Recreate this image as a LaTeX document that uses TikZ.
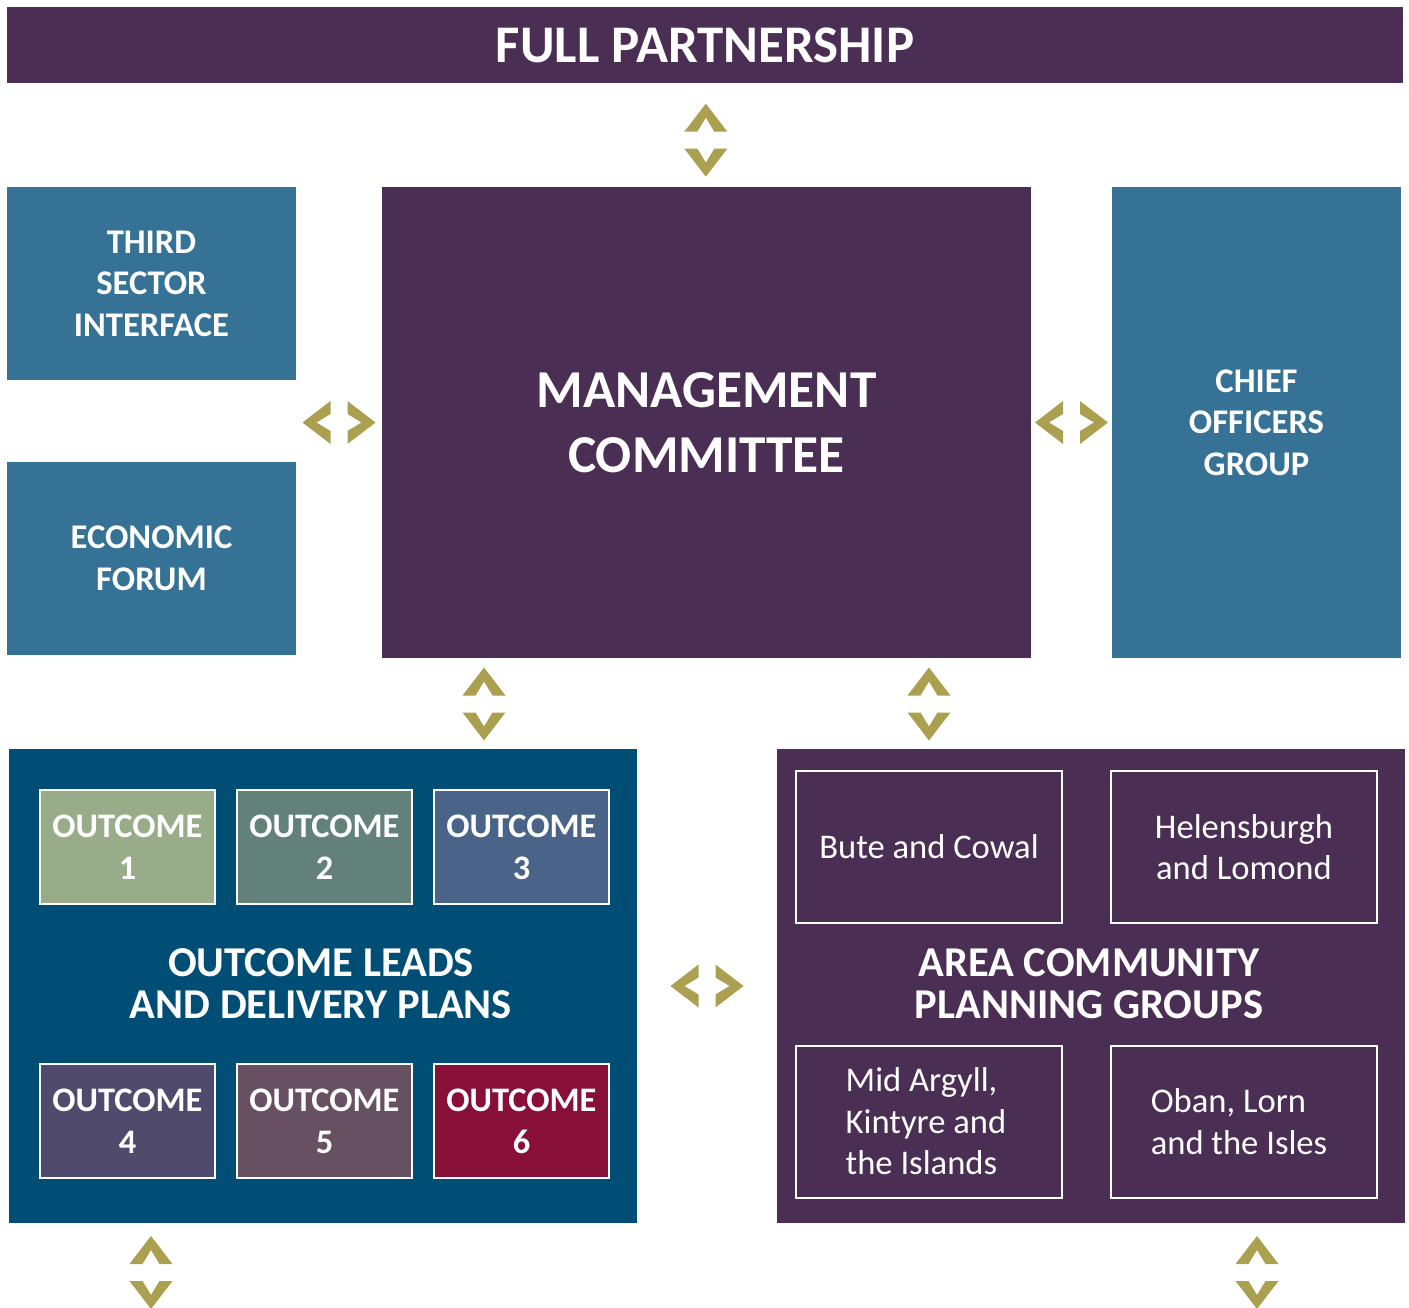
\documentclass[tikz,border=0pt]{standalone}
\usepackage{fontspec}
\setmainfont{Carlito}
\usepackage{tikz}
\usetikzlibrary{positioning,calc}
\definecolor{cpppurple}{RGB}{74,46,83}
\definecolor{cppteal}{RGB}{53,114,150}
\definecolor{cppnavy}{RGB}{0,78,117}
\definecolor{chevgold}{RGB}{170,160,80}
\definecolor{outA}{RGB}{152,172,138}
\definecolor{outB}{RGB}{98,129,121}
\definecolor{outC}{RGB}{74,100,137}
\definecolor{outD}{RGB}{80,74,108}
\definecolor{outE}{RGB}{104,80,99}
\definecolor{outF}{RGB}{136,16,56}

% pair of chevrons, #1 = centre, #2 = rotation
\newcommand{\chevpair}[2]{%
  \fill[chevgold,shift={#1},rotate=#2]
    (-21.5,8.5) -- (0,36.5) -- (21.5,8.5) -- (8.5,8.5) -- (0,22.5) -- (-8.5,8.5) -- cycle
    (-21.5,-8.5) -- (0,-36.5) -- (21.5,-8.5) -- (8.5,-8.5) -- (0,-22.5) -- (-8.5,-8.5) -- cycle;}

\tikzset{
  panel/.style={inner sep=0pt, text=white, align=center,
    font=\bfseries\fontsize{34.6}{41.5}\selectfont},
  outcomebox/.style={panel, draw=white, line width=2pt,
    minimum width=175, minimum height=114, font=\bfseries\fontsize{34.4}{42}\selectfont},
  areabox/.style={inner sep=0pt, text=white, draw=white, line width=2pt,
    minimum width=266, minimum height=152, font=\fontsize{34.6}{41.5}\selectfont}
}

\begin{document}
\begin{tikzpicture}[x=1pt,y=1pt]
    \useasboundingbox (0,0) rectangle (1409,-1308);

    % Top band
    \node[panel, fill=cpppurple, minimum width=1396, minimum height=76,
          font=\bfseries\fontsize{52.9}{60}\selectfont] (fp) at (705,-45) {FULL PARTNERSHIP};

    % Middle row
    \node[panel, fill=cppteal, minimum width=289, minimum height=193] (tsi) at (151.5,-283.5) {THIRD\\SECTOR\\INTERFACE};
    \node[panel, fill=cppteal, minimum width=289, minimum height=193] (ef) at (151.5,-558.5) {ECONOMIC\\FORUM};
    \node[panel, fill=cpppurple, minimum width=649, minimum height=471,
          font=\bfseries\fontsize{53.3}{65}\selectfont] (mc) at (706.5,-422.5) {MANAGEMENT\\COMMITTEE};
    \node[panel, fill=cppteal, minimum width=289, minimum height=471] (cog) at (1256.5,-422.5) {CHIEF\\OFFICERS\\GROUP};

    % Bottom panels
    \node[panel, fill=cppnavy, minimum width=628, minimum height=474] (old) at (323,-986) {};
    \node[panel, fill=cpppurple, minimum width=628, minimum height=474] (acpg) at (1091,-986) {};
    \node[panel, font=\bfseries\fontsize{42.5}{42}\selectfont] (oldlabel) at (321,-984) {OUTCOME LEADS\\AND DELIVERY PLANS};
    \node[panel, font=\bfseries\fontsize{42.5}{42}\selectfont] (acpglabel) at (1089,-984) {AREA COMMUNITY\\PLANNING GROUPS};

    % Outcome boxes
    \node[outcomebox, fill=outA] (oc1) at (127.5,-847) {OUTCOME\\1};
    \node[outcomebox, fill=outB] (oc2) at (324.5,-847) {OUTCOME\\2};
    \node[outcomebox, fill=outC] (oc3) at (521.5,-847) {OUTCOME\\3};
    \node[outcomebox, fill=outD] (oc4) at (127.5,-1121) {OUTCOME\\4};
    \node[outcomebox, fill=outE] (oc5) at (324.5,-1121) {OUTCOME\\5};
    \node[outcomebox, fill=outF] (oc6) at (521.5,-1121) {OUTCOME\\6};

    % Area groups
    \node[areabox, align=center] (bc) at (929,-847) {Bute and Cowal};
    \node[areabox, align=center] (hl) at (1244,-847) {Helensburgh\\and Lomond};
    \node[areabox] (mak) at (929,-1121.5) {};
    \node[areabox] (oli) at (1244,-1121.5) {};
    \node[areabox, draw=none, align=left, minimum width=0pt, minimum height=0pt] at (926,-1121.5) {Mid Argyll,\\Kintyre and\\the Islands};
    \node[areabox, draw=none, align=left, minimum width=0pt, minimum height=0pt] at (1239,-1121.5) {Oban, Lorn\\and the Isles};

    % Chevrons
    \chevpair{($(fp.south)!0.55!(mc.north)$)}{0}
    \chevpair{($(mc.west)!0.5!(tsi.east |- mc.west)$)}{90}
    \chevpair{($(mc.east)!0.5!(cog.west)$)}{90}
    \chevpair{(484,-704)}{0}
    \chevpair{(929,-704)}{0}
    \chevpair{($(old.east)!0.5!(acpg.west)$)}{90}
    \chevpair{(151,-1272.5)}{0}
    \chevpair{(1257,-1272.5)}{0}
\end{tikzpicture}
\end{document}
